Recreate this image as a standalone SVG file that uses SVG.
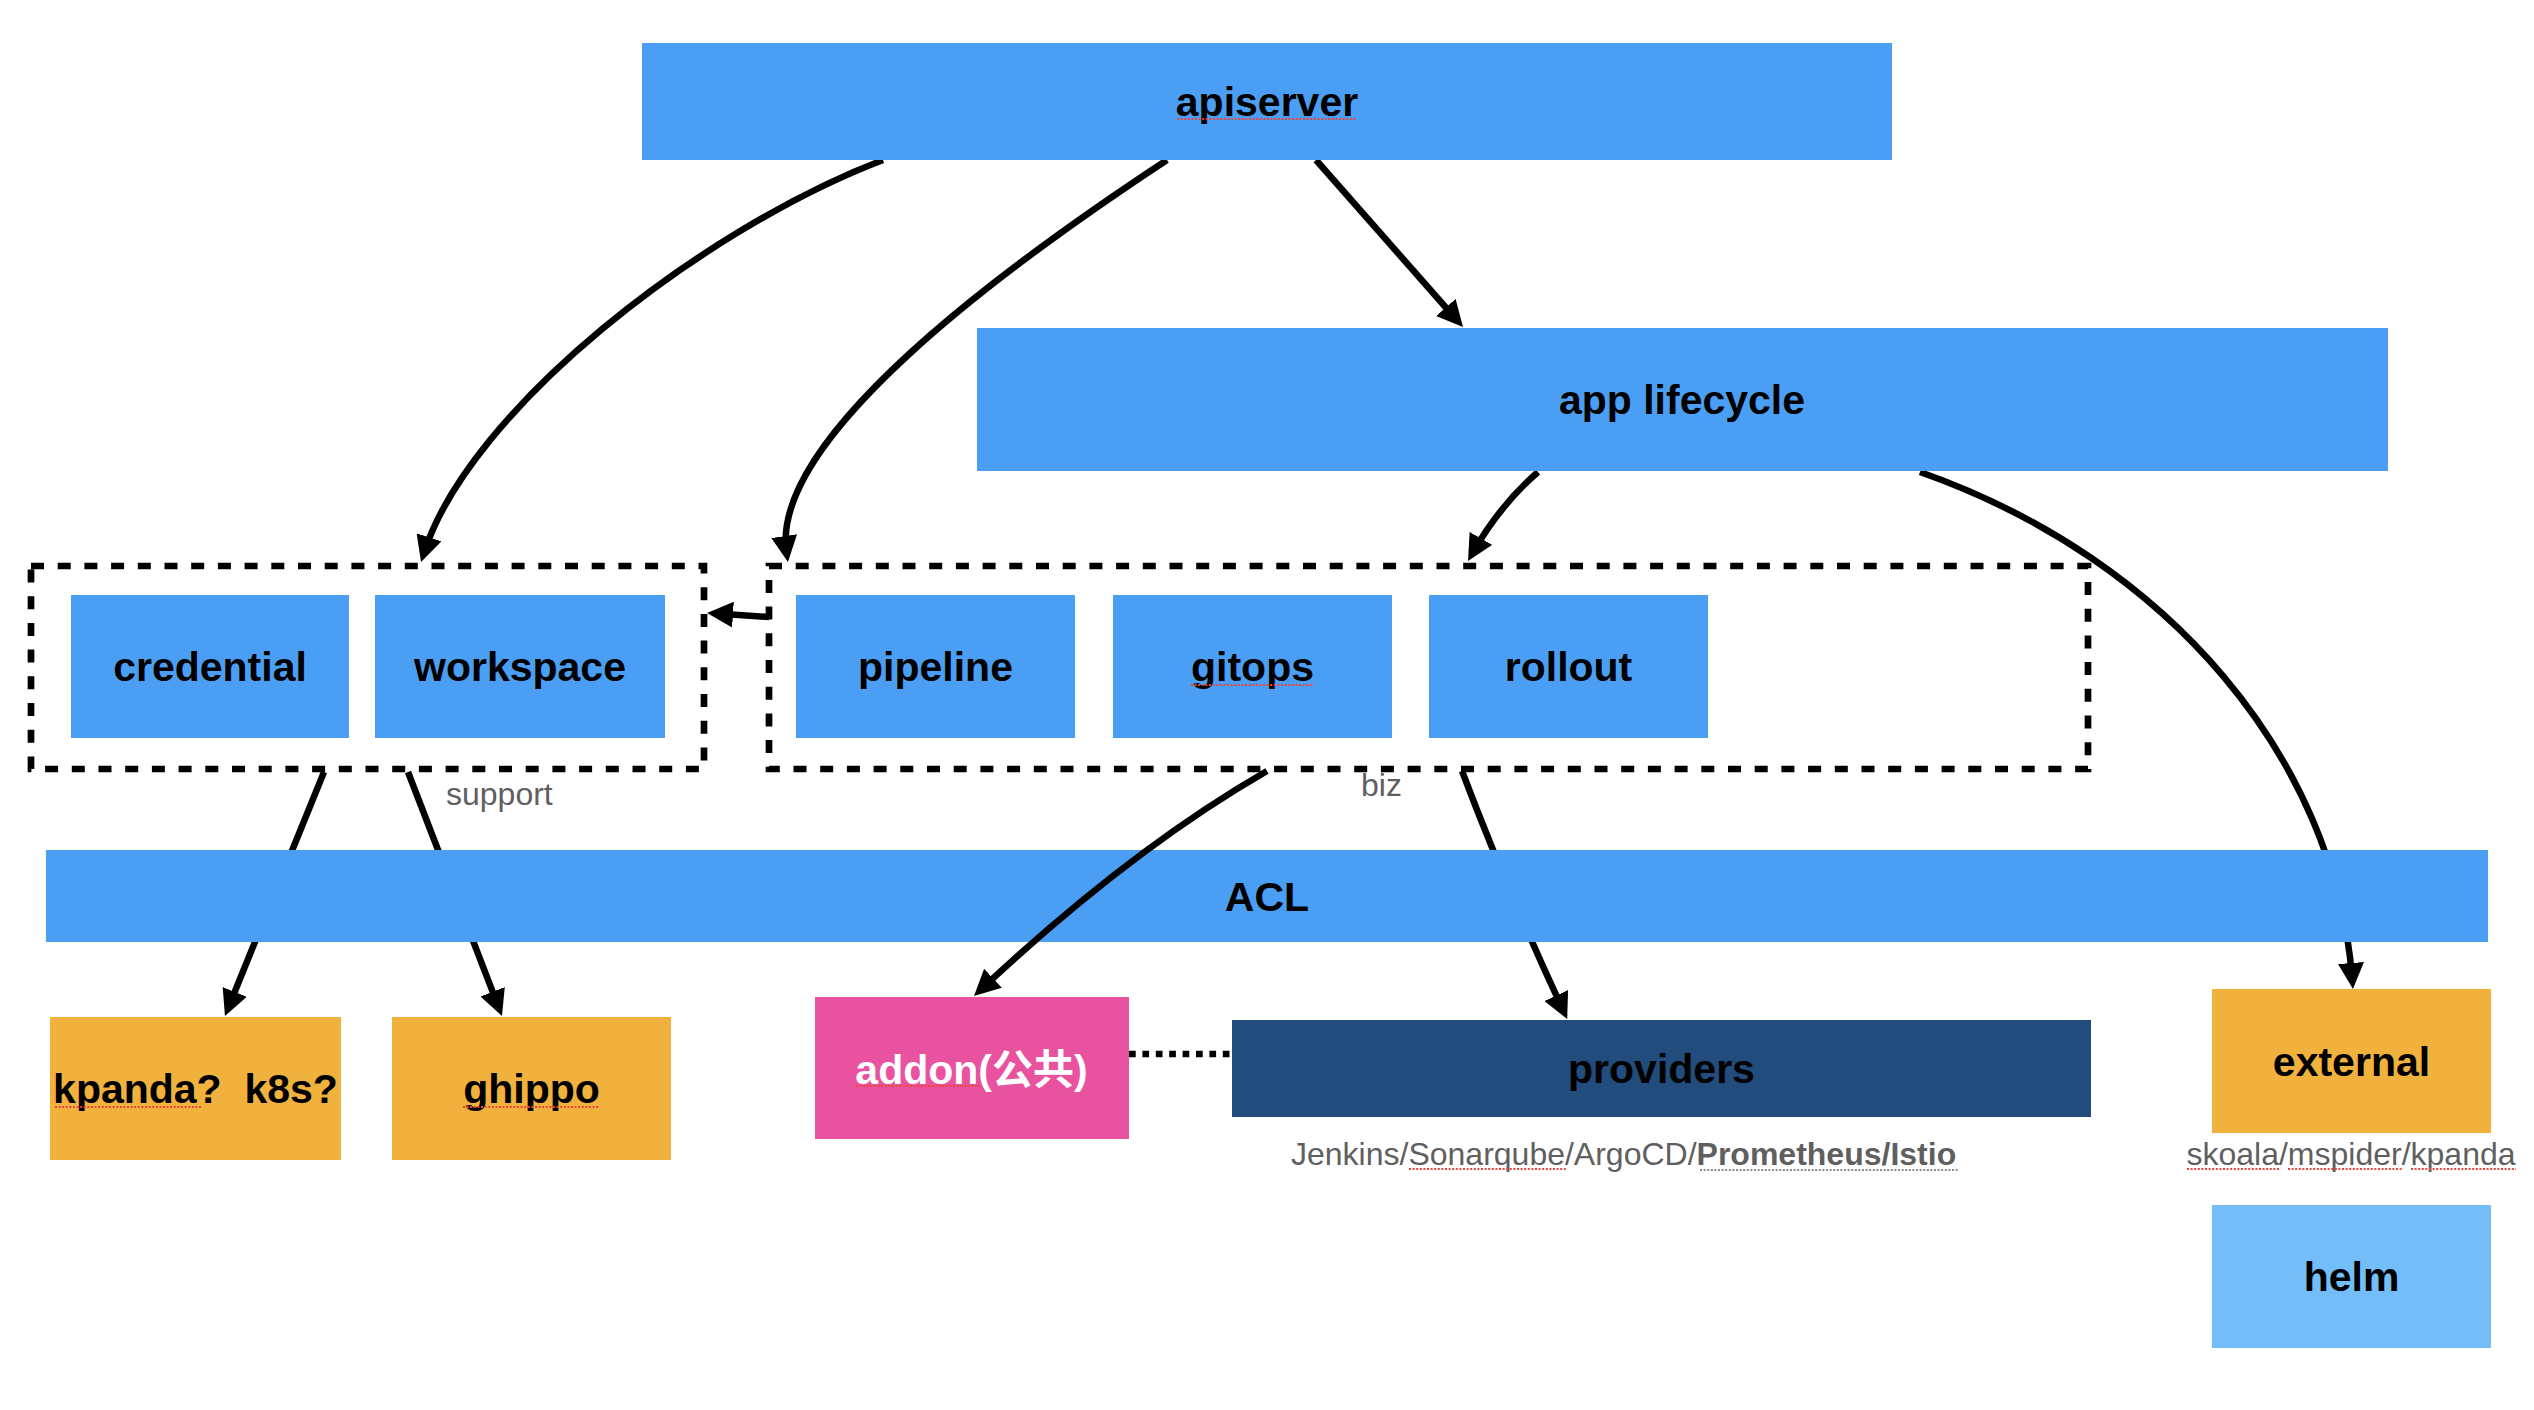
<svg xmlns="http://www.w3.org/2000/svg" width="2534" height="1410" viewBox="0 0 2534 1410">
<defs>
<marker id="ah" markerUnits="userSpaceOnUse" markerWidth="26" markerHeight="26" refX="16" refY="13" orient="auto"><path d="M0,0 L26,13 L0,26 z" fill="#000"/></marker>
<style>
.blue{fill:#4A9FF5}
.orange{fill:#F0B13D}
.pink{fill:#E9529E}
.navy{fill:#214C7B}
.light{fill:#73BEF9}
.lbl{font-family:"Liberation Sans","Noto Sans CJK SC",Arial,sans-serif;font-size:41px;font-weight:bold;fill:#000;text-anchor:middle}
.white{fill:#fff}
.note{font-family:"Liberation Sans",Arial,sans-serif;font-size:32px;fill:#5f5f5f}
.dash{fill:none;stroke:#000;stroke-width:6.7;stroke-dasharray:13 13.7}
.conn{fill:none;stroke:#000;stroke-width:6.5;marker-end:url(#ah)}
.dots{fill:none;stroke:#000;stroke-width:6.7;stroke-dasharray:6.7 6.7}
.spell{fill:none;stroke:#E8453C;stroke-width:2.2;stroke-dasharray:2 1.6}
.gspell{fill:none;stroke:#8a8a8a;stroke-width:2;stroke-dasharray:2 1.6}
</style>
</defs>
<rect width="2534" height="1410" fill="#fff"/>

<g id="connectors">
<path class="conn" d="M883,160 C700,230 470,410 424.1,552.5"/>
<path class="conn" d="M1167,160 C1000,270 770,440 786.5,552"/>
<path class="conn" d="M1316,160 L1456.4,319.5"/>
<path class="conn" d="M1538,472 Q1500,505 1473,552.3"/>
<path class="conn" d="M1920,472 C2170,560 2335,760 2352.2,979"/>
<path class="conn" d="M324,772 L228.7,1006.7"/>
<path class="conn" d="M408,772 L498.4,1006.7"/>
<path class="conn" d="M1462,771 Q1505,885 1563,1010"/>
<path class="conn" d="M769,617 L717,613.6"/>
<path class="dots" d="M1129,1054 L1231,1054"/>
</g>

<g id="apiserver"><rect class="blue" x="642" y="43" width="1250" height="117"/><text class="lbl" x="1267" y="116">apiserver</text></g>
<g id="app-lifecycle"><rect class="blue" x="977" y="328" width="1411" height="143"/><text class="lbl" x="1682" y="414">app lifecycle</text></g>

<g id="support"><rect class="dash" x="31" y="566" width="673" height="203"/><text class="note" x="446" y="805">support</text></g>
<g id="biz"><rect class="dash" x="769" y="566" width="1319" height="203"/><text class="note" x="1361" y="796">biz</text></g>

<g id="credential"><rect class="blue" x="71" y="595" width="278" height="143"/><text class="lbl" x="210" y="681">credential</text></g>
<g id="workspace"><rect class="blue" x="375" y="595" width="290" height="143"/><text class="lbl" x="520" y="681">workspace</text></g>
<g id="pipeline"><rect class="blue" x="796" y="595" width="279" height="143"/><text class="lbl" x="935.5" y="681">pipeline</text></g>
<g id="gitops"><rect class="blue" x="1113" y="595" width="279" height="143"/><text class="lbl" x="1252.5" y="681">gitops</text></g>
<g id="rollout"><rect class="blue" x="1429" y="595" width="279" height="143"/><text class="lbl" x="1568.5" y="681">rollout</text></g>

<g id="acl"><rect class="blue" x="46" y="850" width="2442" height="92"/><text class="lbl" x="1267" y="911">ACL</text></g>

<g id="kpanda"><rect class="orange" x="50" y="1017" width="291" height="143"/><text class="lbl" x="195.5" y="1103" xml:space="preserve">kpanda?  k8s?</text></g>
<g id="ghippo"><rect class="orange" x="392" y="1017" width="279" height="143"/><text class="lbl" x="531.5" y="1103">ghippo</text></g>
<g id="addon"><rect class="pink" x="815" y="997" width="314" height="142"/><text class="lbl white" x="971.5" y="1084">addon(公共)</text></g>
<g id="providers"><rect class="navy" x="1232" y="1020" width="859" height="97"/><text class="lbl" x="1661.5" y="1083">providers</text>
<text class="note" x="1291" y="1165">Jenkins/Sonarqube/ArgoCD/<tspan font-weight="bold">Prometheus/Istio</tspan></text></g>
<g id="external"><rect class="orange" x="2212" y="989" width="279" height="144"/><text class="lbl" x="2351.5" y="1076">external</text>
<text class="note" x="2351" y="1165" text-anchor="middle">skoala/mspider/kpanda</text></g>
<g id="helm"><rect class="light" x="2212" y="1205" width="279" height="143"/><text class="lbl" x="2351.5" y="1291">helm</text></g>

<g id="connectors-over">
<path class="conn" d="M1267,771 Q1130,850 981.3,989.2"/>
</g>

<g id="spellcheck">
<path class="spell" d="M1177,119 H1356"/>
<path class="spell" d="M1191,685 H1314"/>
<path class="spell" d="M55,1107 H201"/>
<path class="spell" d="M463,1107 H599"/>
<path class="spell" d="M856,1086 H980"/>
<path class="spell" d="M1409,1169 H1566"/>
<path class="spell" d="M2187,1169 H2279 M2288,1169 H2402 M2411,1169 H2516"/>
<path class="gspell" d="M1700,1170 H1958"/>
</g>
</svg>
